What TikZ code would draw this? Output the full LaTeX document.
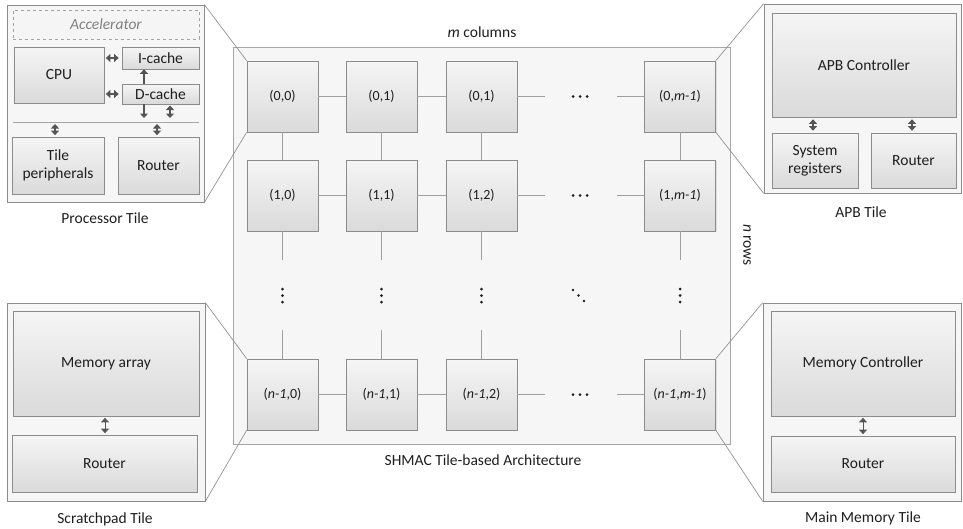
\documentclass[tikz,border=0pt]{standalone}
\usepackage{fontspec}
\setmainfont{Carlito}
\usetikzlibrary{shadows,arrows.meta}

\definecolor{edge}{RGB}{140,140,140}
\definecolor{tiletop}{RGB}{245,245,245}
\definecolor{tilebot}{RGB}{218,218,218}
\definecolor{panelfill}{RGB}{246,246,246}
\definecolor{arrowgray}{RGB}{85,85,85}
\definecolor{ink}{RGB}{30,30,30}

\pgfdeclarelayer{background}
\pgfsetlayers{background,main}

% a node spanning the rectangle (x1,y1)-(x2,y2): style, name, x1, y1, x2, y2
\newcommand\spanbox[6]{%
  \node[#1, minimum width={(#5-#3)*1pt}, minimum height={(#6-#4)*1pt}]
    (#2) at ({(#3+#5)/2},{(#4+#6)/2})}

\tikzset{
  unit/.style={draw=edge, line width=0.7pt, top color=tiletop, bottom color=tilebot,
    inner sep=0pt, align=center, text=ink, font=\fontsize{15.5}{18}\selectfont,
    drop shadow={opacity=0.18, shadow xshift=1pt, shadow yshift=-1pt}},
  cell/.style={unit, minimum width=71pt, minimum height=71pt, font=\fontsize{14}{16}\selectfont},
  holder/.style={draw=edge, line width=0.7pt, fill=panelfill, inner sep=0pt,
    drop shadow={opacity=0.15, shadow xshift=1pt, shadow yshift=-1pt}},
  accel/.style={draw=edge!80, dashed, line width=0.7pt, fill=gray!8, inner sep=0pt,
    text=gray, font=\fontsize{15.5}{18}\selectfont\itshape},
  caption/.style={text=ink, font=\fontsize{15.5}{18}\selectfont},
  link/.style={draw=gray!75, line width=0.8pt},
  zoomline/.style={draw=gray!85, line width=0.7pt},
  rule/.style={draw=gray!70, line width=0.7pt},
  sgl/.style={-{Triangle[length=4.5pt,width=8pt]}, draw=arrowgray, line width=1.2pt},
  dbl/.style={{Triangle[length=4.5pt,width=8pt]}-{Triangle[length=4.5pt,width=8pt]}, draw=arrowgray, line width=1.2pt},
}

\begin{document}
\begin{tikzpicture}[x=1pt,y=-1pt]
\useasboundingbox (0,0) rectangle (963,528);

% the tile array panel
\begin{pgfonlayer}{background}
  \spanbox{holder, draw=gray!70}{array}{233}{47}{730}{444} {};
\end{pgfonlayer}

% ---------- tile grid ----------
\node[cell] (t-0-0) at (282.5,96.5) {(0,0)};
\node[cell] (t-0-1) at (381.5,96.5) {(0,1)};
\node[cell] (t-0-2) at (481.5,96.5) {(0,1)};
\node[cell] (t-0-m) at (680,96.5) {(0,\textit{m-1})};

\node[cell] (t-1-0) at (282.5,195.5) {(1,0)};
\node[cell] (t-1-1) at (381.5,195.5) {(1,1)};
\node[cell] (t-1-2) at (481.5,195.5) {(1,2)};
\node[cell] (t-1-m) at (680,195.5) {(1,\textit{m-1})};

\node[cell] (t-n-0) at (282.5,394.5) {(\textit{n-1},0)};
\node[cell] (t-n-1) at (381.5,394.5) {(\textit{n-1},1)};
\node[cell] (t-n-2) at (481.5,394.5) {(\textit{n-1},2)};
\node[cell] (t-n-m) at (680,394.5) {(\textit{n-1},\textit{m-1})};

% ends of the links that fade into dots
\coordinate (hL0) at (545,96.5);  \coordinate (hR0) at (617,96.5);
\coordinate (hL1) at (545,195.5); \coordinate (hR1) at (617,195.5);
\coordinate (hLn) at (545,394.5); \coordinate (hRn) at (617,394.5);
\coordinate (vT0) at (282.5,260); \coordinate (vB0) at (282.5,330);
\coordinate (vT1) at (381.5,260); \coordinate (vB1) at (381.5,330);
\coordinate (vT2) at (481.5,260); \coordinate (vB2) at (481.5,330);
\coordinate (vTm) at (680,260);   \coordinate (vBm) at (680,330);

\foreach \r in {0,1,n} {
  \draw[link] (t-\r-0) -- (t-\r-1);
  \draw[link] (t-\r-1) -- (t-\r-2);
  \draw[link] (t-\r-2) -- (hL\r);
  \draw[link] (hR\r) -- (t-\r-m);
}
\foreach \c in {0,1,2,m} {
  \draw[link] (t-0-\c) -- (t-1-\c);
  \draw[link] (t-1-\c) -- (vT\c);
  \draw[link] (vB\c) -- (t-n-\c);
}

% ellipsis dots
\foreach \y in {96.5,195.5,394.5}
  \fill[ink] (573,\y) circle (1.5) (580,\y) circle (1.5) (587,\y) circle (1.5);
\foreach \x in {282.5,381.5,481.5,680}
  \fill[ink] (\x,289) circle (1.5) (\x,295.5) circle (1.5) (\x,302) circle (1.5);
\fill[ink] (573,290) circle (1.3) (578.5,295.5) circle (1.3) (584,301) circle (1.3);

\node[caption] (mcols) at (482,32) {\textit{m} columns};
\node[caption, rotate=-90] (nrows) at (747,245) {\textit{n} rows};
\node[caption] (archcap) at (483,460) {SHMAC Tile-based Architecture};

% ---------- processor tile ----------
\spanbox{holder}{proc}{7}{5}{204}{202} {};
\spanbox{accel}{acc}{13}{10}{199}{39} {Accelerator};
\spanbox{unit}{cpu}{14}{47}{104}{103} {CPU};
\spanbox{unit}{icache}{122}{47}{199}{69} {I-cache};
\spanbox{unit}{dcache}{122}{84}{199}{104} {D-cache};
\spanbox{unit}{tper}{12}{137}{104}{194} {Tile\\peripherals};
\spanbox{unit}{prout}{118}{137}{199}{194} {Router};
\node[caption] (proccap) at (105,218) {Processor Tile};

\coordinate (busW) at (13,122);
\coordinate (busE) at (199,122);
\draw[rule] (busW) -- (busE);

\coordinate (ax) at (144,0);
\coordinate (bx) at (170,0);
\coordinate (px) at (55,0);
\coordinate (rx) at (157,0);
\coordinate (stopA) at (0,118);
\coordinate (startB) at (0,105.5);
\coordinate (busLow) at (0,124);

\draw[dbl] ([xshift=1.5pt]cpu.east |- icache.west) -- ([xshift=-3pt]icache.west);
\draw[dbl] ([xshift=1.5pt]cpu.east |- dcache.west) -- ([xshift=-3pt]dcache.west);
\draw[sgl] (dcache.north -| ax) -- (icache.south -| ax);
\draw[sgl] (dcache.south -| ax) -- (ax |- stopA);
\draw[dbl] (bx |- startB) -- (bx |- stopA);
\draw[dbl] (px |- busLow) -- ([yshift=1.5pt]tper.north -| px);
\draw[dbl] (rx |- busLow) -- ([yshift=1.5pt]prout.north -| rx);

% ---------- APB tile ----------
\spanbox{holder}{apb}{764}{4}{961}{193} {};
\spanbox{unit}{apbctl}{772}{13}{956}{117} {APB Controller};
\spanbox{unit}{sysreg}{772}{133}{858}{188} {System\\registers};
\spanbox{unit}{arout}{871}{133}{956}{188} {Router};
\node[caption] (apbcap) at (861,212) {APB Tile};

\coordinate (sx) at (813,0);
\coordinate (ox) at (912,0);
\draw[dbl] ([yshift=-2pt]apbctl.south -| sx) -- ([yshift=2pt]sysreg.north -| sx);
\draw[dbl] ([yshift=-2pt]apbctl.south -| ox) -- ([yshift=2pt]arout.north -| ox);

% ---------- scratchpad tile ----------
\spanbox{holder}{spad}{7}{303}{205}{501} {};
\spanbox{unit}{memarr}{13}{311}{199}{416} {Memory array};
\spanbox{unit}{srout}{12}{435}{197}{492} {Router};
\node[caption] (spadcap) at (105,519) {Scratchpad Tile};
\coordinate (mx) at (105,0);
\draw[dbl, line width=0.8pt] ([yshift=-1.5pt]memarr.south -| mx) -- ([yshift=1.5pt]srout.north -| mx);

% ---------- main memory tile ----------
\spanbox{holder}{mmem}{763}{303}{961}{501} {};
\spanbox{unit}{memctl}{771}{311}{955}{416} {Memory Controller};
\spanbox{unit}{mrout}{771}{436}{955}{492} {Router};
\node[caption] (mmemcap) at (863,518) {Main Memory Tile};
\coordinate (kx) at (863,0);
\draw[dbl, line width=0.8pt] ([yshift=-1.5pt]memctl.south -| kx) -- ([yshift=1.5pt]mrout.north -| kx);

% ---------- magnification lines from tiles to their detail views ----------
\begin{pgfonlayer}{background}
  \draw[zoomline] (proc.north east) -- (t-0-0.north west);
  \draw[zoomline] (proc.south east) -- (t-0-0.south west);
  \draw[zoomline] (apb.north west) -- (t-0-m.north east);
  \draw[zoomline] (apb.south west) -- (t-0-m.south east);
  \draw[zoomline] (spad.north east) -- (t-n-0.north west);
  \draw[zoomline] (spad.south east) -- (t-n-0.south west);
  \draw[zoomline] (mmem.north west) -- (t-n-m.north east);
  \draw[zoomline] (mmem.south west) -- (t-n-m.south east);
\end{pgfonlayer}
\end{tikzpicture}
\end{document}
